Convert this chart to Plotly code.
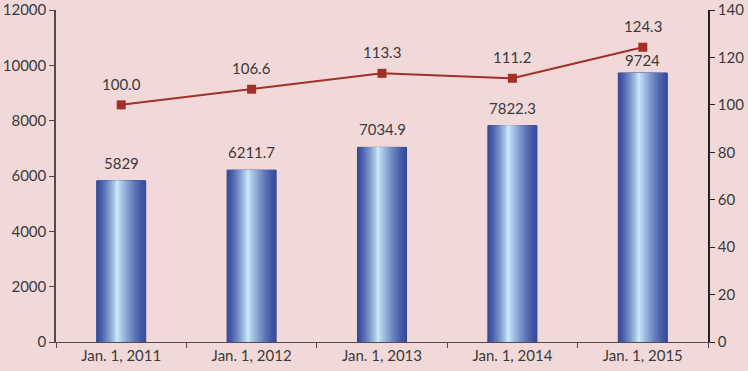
import plotly.graph_objects as go

categories = ["Jan. 1, 2011", "Jan. 1, 2012", "Jan. 1, 2013", "Jan. 1, 2014", "Jan. 1, 2015"]
bar_values = [5829, 6211.7, 7034.9, 7822.3, 9724]
bar_labels = ["5829", "6211.7", "7034.9", "7822.3", "9724"]
index_values = [100.0, 106.6, 113.3, 111.2, 124.3]
left_ticks = [0, 2000, 4000, 6000, 8000, 10000, 12000]
right_ticks = [0, 20, 40, 60, 80, 100, 120, 140]

BG = "#F2D9D9"
AXIS = "#5A4848"
FONT = "Lato, 'Open Sans', sans-serif"
FS = 15
TXT = "#3A3A3A"
bar_label_shift = [18, 18, 18, 18, 13]

fig = go.Figure()

# gradient bars simulated with layered bars
W = 0.376
L, R = -W / 2, W / 2
C = L + 0.42 * W
N = 14
dark = (58, 78, 160)
light = (200, 232, 250)
for i in range(N):
    t = i / (N - 1)
    left = L + t * (C - L) * 0.97
    right = R - t * (R - C) * 0.97
    e = t ** 1.3
    col = tuple(int(dark[k] + (light[k] - dark[k]) * e) for k in range(3))
    fig.add_trace(go.Bar(
        x=categories, y=bar_values,
        width=[right - left] * len(categories),
        offset=[left] * len(categories),
        marker=dict(color="rgb(%d,%d,%d)" % col,
                    line=dict(width=1 if i == 0 else 0, color="rgb(50,70,150)")),
        showlegend=False, hoverinfo="skip" if i else None,
        yaxis="y",
    ))

fig.add_trace(go.Scatter(
    x=categories, y=index_values, yaxis="y2",
    mode="lines+markers",
    line=dict(color="#A03028", width=2),
    marker=dict(symbol="square", size=9, color="#A03028"),
    cliponaxis=False,
    showlegend=False,
))

annotations = []
for c, v, lab, s in zip(categories, bar_values, bar_labels, bar_label_shift):
    annotations.append(dict(x=c, y=v, xref="x", yref="y", text=lab, showarrow=False,
                            yshift=s, font=dict(size=FS, color=TXT, family=FONT)))
for c, v in zip(categories, index_values):
    annotations.append(dict(x=c, y=v, xref="x", yref="y2", text="%.1f" % v, showarrow=False,
                            yshift=21, font=dict(size=FS, color=TXT, family=FONT)))

fig.update_layout(
    width=748, height=371,
    margin=dict(l=56, r=40, t=10, b=29),
    paper_bgcolor=BG, plot_bgcolor=BG,
    barmode="overlay",
    annotations=annotations,
    font=dict(family=FONT, size=FS, color=TXT),
    xaxis=dict(type="category", showline=True, linecolor=AXIS, linewidth=1,
               ticks="outside", ticklen=5, tickcolor=AXIS, tickson="boundaries",
               showgrid=False, tickfont=dict(size=FS), automargin=False),
    yaxis=dict(range=[0, 12000], tickvals=left_ticks, ticktext=[str(v) for v in left_ticks],
               showline=True, linecolor=AXIS, ticklabeloverflow="allow",
               linewidth=1.5, ticks="outside", ticklen=5, tickcolor=AXIS,
               showgrid=False, zeroline=False, tickfont=dict(size=FS), automargin=False),
    yaxis2=dict(range=[0, 140], tickvals=right_ticks, ticktext=[str(v) for v in right_ticks],
                overlaying="y", side="right", ticklabeloverflow="allow",
                showline=True, linecolor="#222222", linewidth=1.5, ticks="outside",
                ticklen=5, tickcolor="#222222", showgrid=False, zeroline=False,
                tickfont=dict(size=FS), automargin=False),
)

fig.write_html("out.html", config={"displayModeBar": False},
               post_script="document.body.style.margin='0px';document.body.style.background='%s';" % BG)
